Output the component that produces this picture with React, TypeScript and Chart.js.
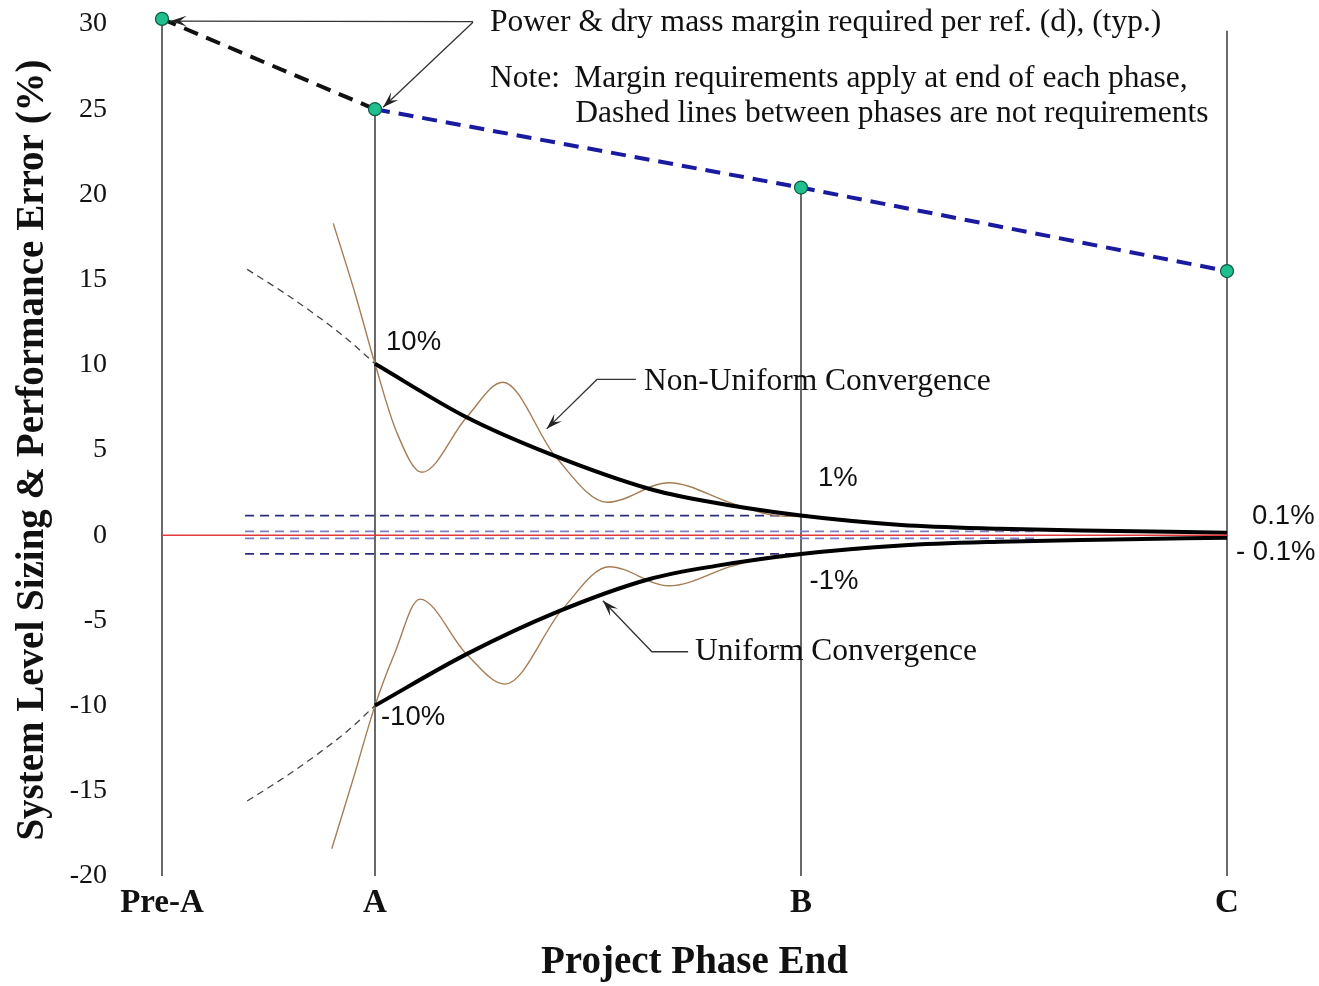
import { useEffect, useRef } from 'react';
import { Chart, registerables } from 'chart.js';

Chart.register(...registerables);

// ---- data ----
const phaseX = [0, 1, 3, 5];
const phaseLabels = ['Pre-A', 'A', 'B', 'C'];
const marginRequired = [30.3, 25, 20.4, 15.5];
const phaseLineTop = [30.3, 25, 20.4, 29.6];
const axisBottom = -20;

const convUpperX = [1, 1.43, 1.82, 2.29, 2.53, 3, 3.47, 3.93, 4.4, 5];
const convUpper = [10.06, 6.92, 4.77, 2.71, 2.05, 1.15, 0.6, 0.38, 0.26, 0.15];
const convLowerX = [1, 1.43, 1.85, 2.29, 2.6, 3, 3.47, 3.93, 4.4, 5];
const convLower = [-10, -6.98, -4.53, -2.57, -1.8, -1.1, -0.6, -0.38, -0.26, -0.15];

const extX = [0.4, 0.57, 0.73, 0.87, 1.0];
const extUpper = [15.6, 14.25, 12.85, 11.5, 10.06];
const extLower = [-15.6, -14.25, -12.85, -11.5, -10];

const oscUpperX = [0.804, 0.906, 1.0, 1.1, 1.22, 1.43, 1.6, 1.85, 2.09, 2.38, 2.68, 2.88, 3.0, 3.5, 4.0, 4.5, 5.0];
const oscUpper = [18.3, 14.2, 10.06, 6.1, 3.69, 6.92, 8.98, 4.57, 1.93, 3.08, 1.85, 1.15, 1.1, 0.62, 0.36, 0.24, 0.15];
const oscLowerX = [0.797, 0.9, 1.0, 1.09, 1.21, 1.43, 1.61, 1.88, 2.1, 2.38, 2.68, 2.88, 3.0, 3.5, 4.0, 4.5, 5.0];
const oscLower = [-18.4, -14.2, -10, -7.0, -3.75, -6.98, -8.74, -4.34, -1.85, -2.97, -1.8, -1.2, -1.1, -0.62, -0.36, -0.24, -0.15];

const refLevels = [1.15, 0.22, -0.19, -1.1];
const refStartX = 0.39;
const refEndX = [3.0, 4.1, 4.1, 3.0];

const zeroLineX = [0, 5];

// ---- annotation layout (data units) ----
const SERIF = "'Liberation Serif', serif";
const SANS = "'Liberation Sans', Arial, sans-serif";

const notes = [
  { text: 'Power & dry mass margin required per ref. (d), (typ.)', x: 1.54, y: 30.1 },
  { text: 'Note:', x: 1.54, y: 26.76 },
  { text: 'Margin requirements apply at end of each phase,', x: 1.935, y: 26.76 },
  { text: 'Dashed lines between phases are not requirements', x: 1.94, y: 24.76 },
  { text: 'Non-Uniform Convergence', x: 2.263, y: 9.02 },
  { text: 'Uniform Convergence', x: 2.502, y: -6.84 },
];
const pctLabels = [
  { text: '10%', x: 1.052, y: 11.31 },
  { text: '1%', x: 3.08, y: 3.32 },
  { text: '-1%', x: 3.04, y: -2.73 },
  { text: '-10%', x: 1.028, y: -10.72 },
  { text: '0.1%', x: 5.117, y: 1.09 },
  { text: '- 0.1%', x: 5.042, y: -1.03 },
];
const callouts = [
  [[1.46, 30.14], [0.04, 30.17]],
  [[1.46, 30.1], [1.038, 25.12]],
  [[2.225, 9.14], [2.042, 9.14], [1.806, 6.24]],
  [[2.47, -6.84], [2.3, -6.84], [2.07, -3.85]],
];

function pts(xs: number[], ys: number[]) {
  return xs.map((x, i) => ({ x, y: ys[i] }));
}

function drawArrowHead(ctx: CanvasRenderingContext2D, x0: number, y0: number, x1: number, y1: number) {
  const a = Math.atan2(y1 - y0, x1 - x0);
  const s = 17;
  const w = 0.32;
  ctx.beginPath();
  ctx.moveTo(x1, y1);
  ctx.lineTo(x1 - s * Math.cos(a - w), y1 - s * Math.sin(a - w));
  ctx.lineTo(x1 - s * 0.55 * Math.cos(a), y1 - s * 0.55 * Math.sin(a));
  ctx.lineTo(x1 - s * Math.cos(a + w), y1 - s * Math.sin(a + w));
  ctx.closePath();
  ctx.fill();
}

const annotationPlugin = {
  id: 'annotations',
  afterDraw(chart: any) {
    const { ctx, scales } = chart;
    const X = (v: number) => scales.x.getPixelForValue(v);
    const Y = (v: number) => scales.y.getPixelForValue(v);
    ctx.save();
    ctx.strokeStyle = '#333';
    ctx.fillStyle = '#222';
    ctx.lineWidth = 1.3;
    for (const c of callouts) {
      ctx.beginPath();
      c.forEach(([x, y], i) => (i === 0 ? ctx.moveTo(X(x), Y(y)) : ctx.lineTo(X(x), Y(y))));
      ctx.stroke();
      const p0 = c[c.length - 2];
      const p1 = c[c.length - 1];
      drawArrowHead(ctx, X(p0[0]), Y(p0[1]), X(p1[0]), Y(p1[1]));
    }
    ctx.textAlign = 'left';
    ctx.textBaseline = 'middle';
    ctx.fillStyle = '#111';
    ctx.font = `31.5px ${SERIF}`;
    for (const n of notes) ctx.fillText(n.text, X(n.x), Y(n.y));
    ctx.font = `27.5px ${SANS}`;
    for (const n of pctLabels) ctx.fillText(n.text, X(n.x), Y(n.y));
    ctx.restore();
  },
};

export default function App() {
  const ref = useRef<HTMLCanvasElement>(null);
  useEffect(() => {
    document.body.style.margin = '0';
    document.body.style.overflow = 'hidden';
    const canvas = ref.current!;
    const line = (data: any[], color: string, width: number, order: number, extra: any = {}) => ({
      data,
      borderColor: color,
      borderWidth: width,
      pointRadius: 0,
      fill: false,
      tension: 0,
      clip: false,
      order,
      ...extra,
    });
    const smooth = { cubicInterpolationMode: 'monotone' };
    const datasets: any[] = [];
    phaseX.forEach((x, i) => {
      datasets.push(line([{ x, y: axisBottom }, { x, y: phaseLineTop[i] }], '#1a1a1a', 1.3, 20));
    });
    refLevels.forEach((lv, i) => {
      const outer = i === 0 || i === 3;
      datasets.push(
        line([{ x: refStartX, y: lv }, { x: refEndX[i], y: lv }], outer ? '#2c2c7c' : '#7d7dc4', 1.8, 18, {
          borderDash: [9, 6],
        })
      );
    });
    datasets.push(line(pts(oscUpperX, oscUpper), '#a57d55', 1.4, 16, smooth));
    datasets.push(line(pts(oscLowerX, oscLower), '#a57d55', 1.4, 16, smooth));
    datasets.push(line(pts(extX, extUpper), '#444', 1.3, 14, { ...smooth, borderDash: [7, 5] }));
    datasets.push(line(pts(extX, extLower), '#444', 1.3, 14, { ...smooth, borderDash: [7, 5] }));
    datasets.push(line(pts(convUpperX, convUpper), '#000', 4, 12, smooth));
    datasets.push(line(pts(convLowerX, convLower), '#000', 4, 12, smooth));
    datasets.push(line(zeroLineX.map((x) => ({ x, y: 0 })), '#e23a3a', 1.4, 10));
    datasets.push(
      line(pts(phaseX.slice(0, 2), marginRequired.slice(0, 2)), '#111', 4, 8, { borderDash: [15, 9] })
    );
    datasets.push(
      line(pts(phaseX.slice(1), marginRequired.slice(1)), '#1a1aa0', 4, 8, { borderDash: [15, 9] })
    );
    datasets.push({
      data: pts(phaseX, marginRequired),
      showLine: false,
      pointRadius: 6.5,
      pointBackgroundColor: '#1fc08e',
      pointBorderColor: '#0c5a45',
      pointBorderWidth: 1.2,
      clip: false,
      order: 1,
    });

    const chart = new Chart(canvas, {
      type: 'line',
      data: { datasets },
      plugins: [annotationPlugin],
      options: {
        responsive: false,
        animation: false,
        events: [],
        layout: { padding: { top: 24, right: 92, left: 0, bottom: 0 } },
        plugins: { legend: { display: false }, tooltip: { enabled: false } },
        scales: {
          x: {
            type: 'linear',
            min: 0,
            max: 5,
            afterBuildTicks: (s: any) => {
              s.ticks = phaseX.map((v) => ({ value: v }));
            },
            afterFit: (s: any) => {
              s.height = 110;
            },
            ticks: {
              autoSkip: false,
              maxRotation: 0,
              padding: 8,
              color: '#111',
              font: { family: SERIF, size: 33, weight: 'bold' },
              callback: (v: any) => {
                const i = phaseX.indexOf(Number(v));
                return i >= 0 ? phaseLabels[i] : '';
              },
            },
            grid: { display: false, drawTicks: false },
            border: { display: false },
            title: {
              display: true,
              text: 'Project Phase End',
              color: '#111',
              font: { family: SERIF, size: 39, weight: 'bold' },
              padding: { top: 0, bottom: 0 },
            },
          },
          y: {
            type: 'linear',
            min: -20,
            max: 30,
            afterFit: (s: any) => {
              s.width = 162;
              s.paddingTop = 8;
              s.paddingBottom = 8;
            },
            ticks: {
              stepSize: 5,
              padding: 55,
              color: '#111',
              font: { family: SERIF, size: 28 },
            },
            grid: { display: false, drawTicks: false },
            border: { display: false },
            title: {
              display: true,
              text: 'System Level Sizing & Performance Error (%)',
              color: '#111',
              font: { family: SERIF, size: 39, weight: 'bold' },
              padding: { top: 10, bottom: 0 },
            },
          },
        },
      } as any,
    });
    return () => chart.destroy();
  }, []);
  return <canvas ref={ref} width={1319} height={986} style={{ display: 'block' }} />;
}
